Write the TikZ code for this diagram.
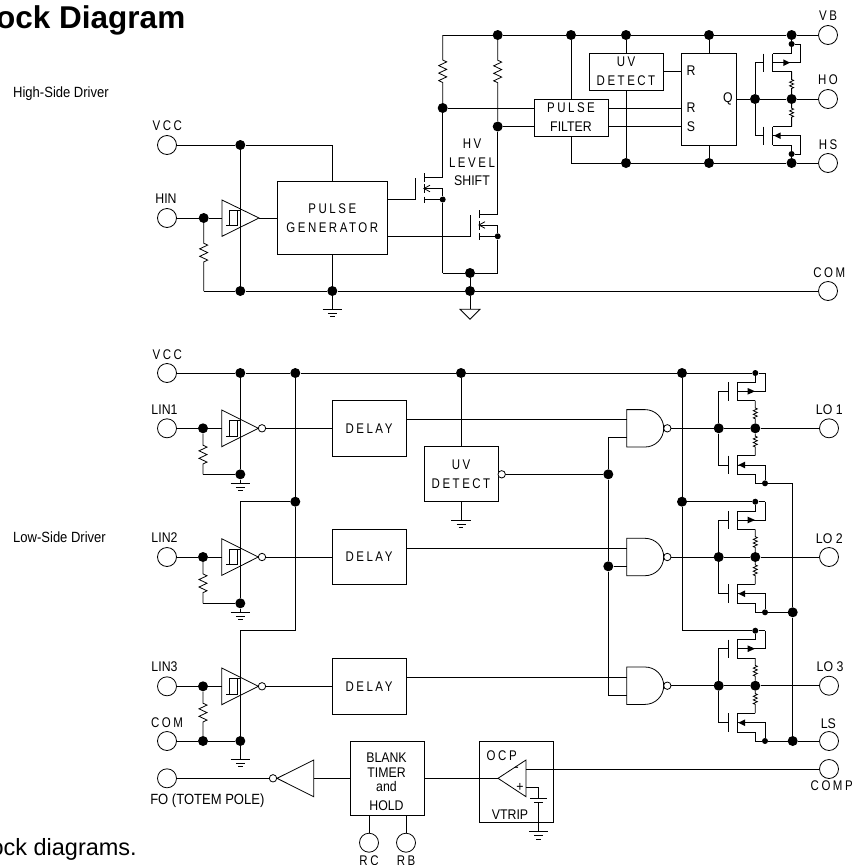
\documentclass[tikz,border=0pt]{standalone}
\usepackage{fontspec}
\usepackage{tikz}
\usetikzlibrary{decorations.pathmorphing}
\setmainfont{Liberation Sans}
\newfontfamily\narrowfont[FakeStretch=0.88]{Liberation Sans}
\newfontfamily\spacedfont[FakeStretch=0.82,LetterSpace=18]{Liberation Sans}
\tikzset{
  wire/.style={line width=0.8pt},
  term/.style={shape=circle,minimum size=19pt,fill=white,draw,line width=0.8pt},
  dot/.style={shape=circle,minimum size=10pt,fill=black},
  sdot/.style={shape=circle,minimum size=6pt,fill=black},
  bub/.style={shape=circle,minimum size=7.4pt,fill=white,draw,line width=0.8pt},
  blk/.style={shape=rectangle,draw,line width=0.8pt,align=center},
  lbl/.style={font=\narrowfont\fontsize{14}{19}\selectfont},
  wlbl/.style={font=\narrowfont\fontsize{14.8}{19}\selectfont},
  sp/.style={font=\spacedfont\fontsize{14}{19}\selectfont},
  resist/.style 2 args={decorate,decoration={zigzag,segment length=7.5pt,amplitude=4pt,pre length=#1,post length=#2}},
  sres/.style 2 args={decorate,decoration={zigzag,segment length=3.6pt,amplitude=2pt,pre length=#1,post length=#2}},
}
\begin{document}
\begin{tikzpicture}[inner sep=0pt]
\useasboundingbox (0pt,0pt) rectangle (855pt,-865pt);
\node (title) [at={(185.5pt,-28pt)},anchor=base east,font=\bfseries\fontsize{31.5}{33}\selectfont] {ock Diagram};
\node (note) [at={(137pt,-855pt)},anchor=base east,font=\fontsize{23.5}{25}\selectfont] {ock diagrams.};
\node (high) [at={(13pt,-94pt)},anchor=west,wlbl] {High-Side Driver};
\node (low) [at={(13pt,-537pt)},anchor=west,wlbl] {Low-Side Driver};
\node (vb) [term,at={(828pt,-35pt)}] {};
\node (ho) [term,at={(828pt,-99pt)}] {};
\node (hs) [term,at={(828pt,-163pt)}] {};
\node (com0) [term,at={(828pt,-291pt)}] {};
\node (vcc0) [term,at={(167pt,-145pt)}] {};
\node (hin) [term,at={(167pt,-218pt)}] {};
\node (vcc1) [term,at={(167pt,-373pt)}] {};
\node (lin1) [term,at={(167pt,-428.3pt)}] {};
\node (lin2) [term,at={(167pt,-557pt)}] {};
\node (lin3) [term,at={(167pt,-686.3pt)}] {};
\node (com1) [term,at={(167pt,-741pt)}] {};
\node (fo) [term,at={(167pt,-778.3pt)}] {};
\node (rc) [term,at={(369pt,-842.7pt)}] {};
\node (rb) [term,at={(406pt,-842.7pt)}] {};
\node (lo1) [term,at={(829pt,-428.3pt)}] {};
\node (lo2) [term,at={(829pt,-557pt)}] {};
\node (lo3) [term,at={(829pt,-685.7pt)}] {};
\node (ls) [term,at={(829pt,-741pt)}] {};
\node (comp) [term,at={(829pt,-769pt)}] {};

\node (pf) [blk,lbl,minimum width=74pt,minimum height=37pt,at={(571pt,-117.5pt)}] {{\spacedfont PULSE}\\FILTER};
\node (uv0) [blk,sp,minimum width=74pt,minimum height=37pt,at={(626pt,-71.5pt)}] {UV\\DETECT};
\node (ff) [blk,minimum width=55.3pt,minimum height=92pt,at={(708.7pt,-99pt)}] {};
\node (pg) [blk,sp,minimum width=110.7pt,minimum height=73.4pt,at={(332.3pt,-218pt)}] {PULSE\\GENERATOR};
\node (dl1) [blk,sp,minimum width=74pt,minimum height=55.3pt,at={(369pt,-428.3pt)}] {DELAY};
\node (dl2) [blk,sp,minimum width=74pt,minimum height=55.3pt,at={(369pt,-557pt)}] {DELAY};
\node (dl3) [blk,sp,minimum width=74pt,minimum height=55.3pt,at={(369pt,-686.3pt)}] {DELAY};
\node (uv1) [blk,sp,minimum width=74pt,minimum height=55pt,at={(461pt,-474.2pt)}] {UV\\DETECT};
\node (bt) [blk,minimum width=73.6pt,minimum height=73.7pt,at={(387.5pt,-778.3pt)}] {};
\node (ocp) [blk,minimum width=74pt,minimum height=81pt,at={(516.3pt,-781.8pt)}] {};

\node (j0) [dot,at={(497.7pt,-35pt)}] {};
\node (j1) [dot,at={(571pt,-35pt)}] {};
\node (j2) [dot,at={(626pt,-35pt)}] {};
\node (j3) [dot,at={(709pt,-35pt)}] {};
\node (j4) [dot,at={(791.6pt,-35pt)}] {};
\node (j5) [dot,at={(442.7pt,-108pt)}] {};
\node (j6) [dot,at={(497.7pt,-126.5pt)}] {};
\node (j7) [dot,at={(626pt,-163pt)}] {};
\node (j8) [dot,at={(709pt,-163pt)}] {};
\node (j9) [dot,at={(791.6pt,-163pt)}] {};
\node (j10) [dot,at={(755pt,-99pt)}] {};
\node (j11) [dot,at={(791.6pt,-99pt)}] {};
\node (j12) [dot,at={(470pt,-273pt)}] {};
\node (j13) [dot,at={(470pt,-291pt)}] {};
\node (j14) [dot,at={(240.3pt,-145pt)}] {};
\node (j15) [dot,at={(203.7pt,-218pt)}] {};
\node (j16) [dot,at={(240.3pt,-291pt)}] {};
\node (j17) [dot,at={(332.3pt,-291pt)}] {};
\node (j18) [dot,at={(240.3pt,-373pt)}] {};
\node (j19) [dot,at={(295.3pt,-373pt)}] {};
\node (j20) [dot,at={(461pt,-373pt)}] {};
\node (j21) [dot,at={(682pt,-373pt)}] {};
\node (j22) [dot,at={(203pt,-428.3pt)}] {};
\node (j23) [dot,at={(240.3pt,-474.3pt)}] {};
\node (j24) [dot,at={(295.3pt,-501.7pt)}] {};
\node (j25) [dot,at={(203pt,-557pt)}] {};
\node (j26) [dot,at={(240.3pt,-603.3pt)}] {};
\node (j27) [dot,at={(203pt,-686.3pt)}] {};
\node (j28) [dot,at={(203pt,-741pt)}] {};
\node (j29) [dot,at={(240.3pt,-741pt)}] {};
\node (j30) [dot,at={(608.3pt,-474.3pt)}] {};
\node (j31) [dot,at={(608.3pt,-566.3pt)}] {};
\node (j32) [dot,at={(682pt,-501.7pt)}] {};
\node (j33) [dot,at={(718.7pt,-428.3pt)}] {};
\node (j34) [dot,at={(755.3pt,-428.3pt)}] {};
\node (j35) [dot,at={(718.7pt,-557pt)}] {};
\node (j36) [dot,at={(755.3pt,-557pt)}] {};
\node (j37) [dot,at={(792.7pt,-612.3pt)}] {};
\node (j38) [dot,at={(718.7pt,-685.7pt)}] {};
\node (j39) [dot,at={(755.3pt,-685.7pt)}] {};
\node (j40) [dot,at={(792.7pt,-741pt)}] {};

\node (s0) [sdot,at={(791.6pt,-44pt)}] {};
\node (s1) [sdot,at={(791.6pt,-154pt)}] {};
\node (s2) [sdot,at={(442.7pt,-199.5pt)}] {};
\node (s3) [sdot,at={(497.7pt,-236.3pt)}] {};
\node (s4) [sdot,at={(755.3pt,-373pt)}] {};
\node (s5) [sdot,at={(765pt,-483.3pt)}] {};
\node (s6) [sdot,at={(755.3pt,-501.7pt)}] {};
\node (s7) [sdot,at={(765pt,-612.3pt)}] {};
\node (s8) [sdot,at={(755.3pt,-630.7pt)}] {};
\node (s9) [sdot,at={(765pt,-741pt)}] {};

\node (b0) [bub,at={(262pt,-428.3pt)}] {};
\node (b1) [bub,at={(262pt,-557pt)}] {};
\node (b2) [bub,at={(262pt,-686.3pt)}] {};
\node (b3) [bub,at={(501.7pt,-474.3pt)}] {};
\node (b4) [bub,at={(667.3pt,-428.3pt)}] {};
\node (b5) [bub,at={(667.3pt,-557pt)}] {};
\node (b6) [bub,at={(667.3pt,-685.7pt)}] {};
\node (b7) [bub,at={(273pt,-778.3pt)}] {};

\node (tvb) [sp,at={(828pt,-15.7pt)}] {VB};
\node (tho) [sp,at={(828pt,-80pt)}] {HO};
\node (ths) [sp,at={(828pt,-144.7pt)}] {HS};
\node (tcom0) [sp,at={(829.3pt,-272.7pt)}] {COM};
\node (tvcc0) [sp,at={(167.3pt,-126pt)}] {VCC};
\node (thin) [lbl,at={(166pt,-199pt)}] {HIN};
\node (tvcc1) [sp,at={(167.3pt,-354.7pt)}] {VCC};
\node (tlin1) [lbl,at={(164.5pt,-410pt)}] {LIN1};
\node (tlin2) [lbl,at={(164.5pt,-538pt)}] {LIN2};
\node (tlin3) [lbl,at={(164.5pt,-667pt)}] {LIN3};
\node (tcom1) [sp,at={(167pt,-722.7pt)}] {COM};
\node (tfo) [wlbl,at={(207.3pt,-800.7pt)}] {FO (TOTEM POLE)};
\node (trc) [sp,at={(369pt,-861pt)}] {RC};
\node (trb) [sp,at={(406pt,-861pt)}] {RB};
\node (tlo1) [lbl,at={(829.3pt,-410pt)}] {LO 1};
\node (tlo2) [lbl,at={(829.3pt,-538.3pt)}] {LO 2};
\node (tlo3) [lbl,at={(830pt,-666.7pt)}] {LO 3};
\node (tls) [lbl,at={(828.3pt,-723.3pt)}] {LS};
\node (tcomp) [sp,at={(831.7pt,-785.7pt)}] {COMP};
\node (thv) [sp,at={(472pt,-144pt)}] {HV};
\node (tlevel) [sp,at={(472pt,-163pt)}] {LEVEL};
\node (tshift) [lbl,at={(472pt,-181pt)}] {SHIFT};
\node (tr0) [lbl,at={(691pt,-71pt)}] {R};
\node (tr1) [lbl,at={(691pt,-108pt)}] {R};
\node (ts) [lbl,at={(691pt,-127pt)}] {S};
\node (tq) [lbl,at={(728pt,-98.5pt)}] {Q};
\node (tbt) [lbl,align=center,at={(386.5pt,-781.5pt)}] {BLANK\\[-3.5pt]TIMER\\[-5pt]and\\[0pt]HOLD};
\node (tocp) [sp,at={(501.7pt,-756pt)}] {OCP};
\node (tvtrip) [lbl,at={(510pt,-814.7pt)}] {VTRIP};
\node (tminus) [lbl,at={(516.7pt,-769pt)}] {-};
\node (tplus) [lbl,at={(520pt,-787.7pt)}] {+};

\coordinate (c0) at (442.7pt,-35pt);
\coordinate (c1) at (571pt,-163pt);
\coordinate (c2) at (791.6pt,-71.5pt);
\coordinate (c3) at (791.6pt,-126.5pt);
\coordinate (c4) at (442.7pt,-273pt);
\coordinate (c5) at (497.7pt,-273pt);
\coordinate (c6) at (470pt,-309.3pt);
\coordinate (c7) at (203.7pt,-291pt);
\coordinate (c8) at (332.3pt,-145pt);
\coordinate (c9) at (222pt,-218pt);
\coordinate (c10) at (259pt,-218pt);
\coordinate (c11) at (765pt,-373pt);
\coordinate (c12) at (203pt,-474.3pt);
\coordinate (c13) at (221.7pt,-428.3pt);
\coordinate (c14) at (626.7pt,-419pt);
\coordinate (c15) at (295.3pt,-630.7pt);
\coordinate (c16) at (240.3pt,-630.7pt);
\coordinate (c17) at (240.3pt,-501.7pt);
\coordinate (c18) at (626.7pt,-437.3pt);
\coordinate (c19) at (608.3pt,-437.3pt);
\coordinate (c20) at (608.3pt,-695.3pt);
\coordinate (c21) at (626.7pt,-695.3pt);
\coordinate (c22) at (682pt,-630.7pt);
\coordinate (c23) at (792.7pt,-483.3pt);
\coordinate (c24) at (313.7pt,-778.3pt);
\coordinate (c25) at (498pt,-778.3pt);
\coordinate (c26) at (526pt,-769pt);
\coordinate (c27) at (526pt,-787pt);
\coordinate (c28) at (538.7pt,-798.3pt);
\coordinate (c29) at (203pt,-603.3pt);
\coordinate (c30) at (221.7pt,-557pt);
\coordinate (c31) at (221.7pt,-686.3pt);
\coordinate (c32) at (626.7pt,-548pt);
\coordinate (c33) at (626.7pt,-677pt);
\coordinate (c34) at (626.7pt,-566.3pt);
\coordinate (c35) at (765pt,-501.7pt);
\coordinate (c36) at (765pt,-630.7pt);
\coordinate (c37) at (755.3pt,-400.7pt);
\coordinate (c38) at (755.3pt,-455.7pt);
\coordinate (c39) at (755.3pt,-529.4pt);
\coordinate (c40) at (755.3pt,-584.4pt);
\coordinate (c41) at (755.3pt,-658.1pt);
\coordinate (c42) at (755.3pt,-713.2pt);
\coordinate (c43) at (538.7pt,-802.3pt);
\coordinate (g0) at (332.3pt,-309.3pt);
\coordinate (g1) at (240.3pt,-483.3pt);
\coordinate (g2) at (240.3pt,-612.3pt);
\coordinate (g3) at (240.3pt,-759.3pt);
\coordinate (g4) at (461pt,-520.3pt);
\coordinate (g5) at (538.7pt,-831.7pt);

\path [wire,draw](c0)--(j0);
\path [wire,draw](j0)--(j1);
\path [wire,draw](j1)--(j2);
\path [wire,draw](j2)--(j3);
\path [wire,draw](j3)--(j4);
\path [wire,draw](j4)--(vb);
\path [wire,resist={25pt}{20pt},draw](c0)--(j5);
\path [wire,resist={20pt}{38.5pt},draw](j0)--(j6);
\path [wire,draw](j5)--(pf.west|-j5);
\path [wire,draw](j6)--(pf.west|-j6);
\path [wire,draw](j1)--(pf.north);
\path [wire,draw](pf.south)--(c1);
\path [wire,draw](c1)--(j7);
\path [wire,draw](j7)--(j8);
\path [wire,draw](j8)--(j9);
\path [wire,draw](j9)--(hs);
\path [wire,draw](j2)--(uv0.north);
\path [wire,draw](uv0.south)--(j7);
\path [wire,draw](j3)--(j3|-ff.north);
\path [wire,draw](j8)--(j8|-ff.south);
\path [wire,draw](uv0.east)--(ff.west|-uv0.east);
\path [wire,draw](pf.east|-j5)--(ff.west|-j5);
\path [wire,draw](pf.east|-j6)--(ff.west|-j6);
\path [wire,draw](ff.east|-j10)--(j10);
\path [wire,draw](j10)--(j11);
\path [wire,draw](j11)--(ho);

\path [wire,draw](j10)--(755pt,-62.7pt)--(763.7pt,-62.7pt);
\path [wire,draw](j10)--(755pt,-135.7pt)--(763.7pt,-135.7pt);
\path [wire,draw](763.7pt,-53.5pt)--(763.7pt,-72pt);
\path [wire,draw](772.7pt,-53.5pt)--(772.7pt,-72pt);
\path [wire,draw](763.7pt,-126.5pt)--(763.7pt,-145pt);
\path [wire,draw](772.7pt,-126.5pt)--(772.7pt,-145pt);
\path [wire,draw](j4)--(s0);
\path [wire,draw](s0)--(791.6pt,-53.5pt)--(772.7pt,-53.5pt);
\path [wire,draw](772.7pt,-62.7pt)--(800.3pt,-62.7pt)--(800.3pt,-44pt)--(s0);
\path [fill](783.3pt,-59.4pt)--(790pt,-62.7pt)--(783.3pt,-66pt)--cycle;
\path [wire,draw](772.7pt,-71.5pt)--(c2);
\path [wire,sres={8pt}{4pt},draw](c2)--(j11);
\path [wire,sres={4pt}{8.5pt},draw](j11)--(c3);
\path [wire,draw](c3)--(772.7pt,-126.5pt);
\path [wire,draw](772.7pt,-135.7pt)--(800.3pt,-135.7pt)--(800.3pt,-154pt)--(s1);
\path [fill](780.7pt,-132.4pt)--(774pt,-135.7pt)--(780.7pt,-139pt)--cycle;
\path [wire,draw](772.7pt,-145pt)--(791.6pt,-145pt)--(s1);
\path [wire,draw](s1)--(j9);

\path [wire,draw](j5)--(442.7pt,-177.7pt)--(424pt,-177.7pt);
\path [wire,draw](424pt,-188.5pt)--(442.7pt,-188.5pt)--(s2);
\path [wire,draw](424pt,-199.5pt)--(s2);
\path [wire,draw](s2)--(c4);
\path [wire,draw](424pt,-173.3pt)--(424pt,-181.7pt) (424pt,-184pt)--(424pt,-193.3pt) (424pt,-196.7pt)--(424pt,-203.3pt);
\path [wire,draw](430pt,-185.2pt)--(424pt,-188.5pt)--(430pt,-191.8pt);
\path [wire,draw](pg.east|-s2)--(415.3pt,-199.5pt)--(415.3pt,-177.7pt);
\path [wire,draw](j6)--(497.7pt,-214.7pt)--(479pt,-214.7pt);
\path [wire,draw](479pt,-225pt)--(497.7pt,-225pt)--(s3);
\path [wire,draw](479pt,-236.3pt)--(s3);
\path [wire,draw](s3)--(c5);
\path [wire,draw](479pt,-210pt)--(479pt,-218.3pt) (479pt,-220.7pt)--(479pt,-230pt) (479pt,-233.3pt)--(479pt,-240pt);
\path [wire,draw](485pt,-221.7pt)--(479pt,-225pt)--(485pt,-228.3pt);
\path [wire,draw](pg.east|-s3)--(470.7pt,-236.3pt)--(470.7pt,-214.7pt);
\path [wire,draw](c4)--(j12);
\path [wire,draw](j12)--(c5);
\path [wire,draw](j12)--(j13);
\path [wire,draw](j13)--(c6);
\path [wire,draw](460pt,-309.3pt)--(480pt,-309.3pt)--(470pt,-319.3pt)--cycle;
\path [wire,draw](c7)--(j16);
\path [wire,draw](j16)--(j17);
\path [wire,draw](j17)--(j13);
\path [wire,draw](j13)--(com0);

\path [wire,draw](vcc0)--(j14);
\path [wire,draw](j14)--(c8);
\path [wire,draw](c8)--(pg.north);
\path [wire,draw](j14)--(j16);
\path [wire,draw](hin)--(j15);
\path [wire,draw](j15)--(c9);
\path [wire,draw](c10)--(pg.west);
\path [wire,resist={20pt}{26pt},draw](j15)--(c7);
\path [wire,draw](pg.south)--(j17);
\path [wire,draw](j17)--(g0);
\path [wire,draw](222pt,-200pt)--(222pt,-236.3pt)--(259pt,-218pt)--cycle;
\path [wire,draw](226pt,-225.7pt)--(237.3pt,-225.7pt)--(237.3pt,-210pt)--(229.3pt,-210pt)--(229.3pt,-225.7pt) (237.3pt,-210pt)--(240.3pt,-210pt);
\path [wire,draw](322.6pt,-309.3pt)--(342pt,-309.3pt) (327.8pt,-313pt)--(336.8pt,-313pt) (330pt,-316.5pt)--(334.6pt,-316.5pt);

\path [wire,draw](vcc1)--(j18);
\path [wire,draw](j18)--(j19);
\path [wire,draw](j19)--(j20);
\path [wire,draw](j20)--(j21);
\path [wire,draw](j21)--(s4);
\path [wire,draw](s4)--(c11);
\path [wire,draw](j18)--(j23);
\path [wire,draw](j23)--(g1);
\path [wire,draw](lin1)--(j22);
\path [wire,draw](j22)--(c13);
\path [wire,resist={11.7pt}{7.3pt},draw](j22)--(c12);
\path [wire,draw](c12)--(j23);
\path [wire,draw](b0)--(dl1.west);
\path [wire,draw](221.7pt,-410pt)--(221.7pt,-446.7pt)--(258.3pt,-428.3pt)--cycle;
\path [wire,draw](226pt,-436pt)--(237pt,-436pt)--(237pt,-420.3pt)--(229pt,-420.3pt)--(229pt,-436pt) (237pt,-420.3pt)--(240pt,-420.3pt);
\path [wire,draw](230.6pt,-483.3pt)--(250pt,-483.3pt) (235.8pt,-487pt)--(244.8pt,-487pt) (238pt,-490.5pt)--(242.6pt,-490.5pt);

\path [wire,draw](j19)--(j24);
\path [wire,draw](j24)--(c15);
\path [wire,draw](c15)--(c16);
\path [wire,draw](c16)--(j29);
\path [wire,draw](j24)--(c17);
\path [wire,draw](c17)--(j26);
\path [wire,draw](j26)--(g2);
\path [wire,draw](lin2)--(j25);
\path [wire,draw](j25)--(c30);
\path [wire,resist={11.7pt}{7.3pt},draw](j25)--(c29);
\path [wire,draw](c29)--(j26);
\path [wire,draw](b1)--(dl2.west);
\path [wire,draw](221.7pt,-538.7pt)--(221.7pt,-575.4pt)--(258.3pt,-557pt)--cycle;
\path [wire,draw](226pt,-564.7pt)--(237pt,-564.7pt)--(237pt,-549pt)--(229pt,-549pt)--(229pt,-564.7pt) (237pt,-549pt)--(240pt,-549pt);
\path [wire,draw](230.6pt,-612.3pt)--(250pt,-612.3pt) (235.8pt,-616pt)--(244.8pt,-616pt) (238pt,-619.5pt)--(242.6pt,-619.5pt);

\path [wire,draw](lin3)--(j27);
\path [wire,draw](j27)--(c31);
\path [wire,resist={11.7pt}{13pt},draw](j27)--(j28);
\path [wire,draw](com1)--(j28);
\path [wire,draw](j28)--(j29);
\path [wire,draw](j29)--(g3);
\path [wire,draw](b2)--(dl3.west);
\path [wire,draw](221.7pt,-668pt)--(221.7pt,-704.7pt)--(258.3pt,-686.3pt)--cycle;
\path [wire,draw](226pt,-694pt)--(237pt,-694pt)--(237pt,-678.3pt)--(229pt,-678.3pt)--(229pt,-694pt) (237pt,-678.3pt)--(240pt,-678.3pt);
\path [wire,draw](230.6pt,-759.3pt)--(250pt,-759.3pt) (235.8pt,-763pt)--(244.8pt,-763pt) (238pt,-766.5pt)--(242.6pt,-766.5pt);

\path [wire,draw](dl1.east|-c14)--(c14);
\path [wire,draw](dl2.east|-c32)--(c32);
\path [wire,draw](dl3.east|-c33)--(c33);
\path [wire,draw](j20)--(uv1.north);
\path [wire,draw](uv1.south)--(g4);
\path [wire,draw](451.3pt,-520.3pt)--(470.7pt,-520.3pt) (456.5pt,-524pt)--(465.5pt,-524pt) (458.7pt,-527.5pt)--(463.3pt,-527.5pt);
\path [wire,draw](b3)--(j30);
\path [wire,draw](c18)--(c19);
\path [wire,draw](c19)--(j30);
\path [wire,draw](j30)--(j31);
\path [wire,draw](j31)--(c20);
\path [wire,draw](c20)--(c21);
\path [wire,draw](j31)--(c34);

\path [wire,draw](626.7pt,-409.6pt)--(645pt,-409.6pt) arc[start angle=90,end angle=-90,radius=18.7pt]--(626.7pt,-447pt)--cycle;
\path [wire,draw](626.7pt,-538.3pt)--(645pt,-538.3pt) arc[start angle=90,end angle=-90,radius=18.7pt]--(626.7pt,-575.7pt)--cycle;
\path [wire,draw](626.7pt,-667pt)--(645pt,-667pt) arc[start angle=90,end angle=-90,radius=18.7pt]--(626.7pt,-704.4pt)--cycle;

\path [wire,draw](j21)--(j32);
\path [wire,draw](j32)--(c22);
\path [wire,draw](j32)--(s6);
\path [wire,draw](c22)--(s8);

\path [wire,draw](b4)--(j33);
\path [wire,draw](j33)--(j34);
\path [wire,draw](j34)--(lo1);
\path [wire,draw](j33)--(718.7pt,-391.3pt)--(728pt,-391.3pt);
\path [wire,draw](j33)--(718.7pt,-465pt)--(728pt,-465pt);
\path [wire,draw](728pt,-382.3pt)--(728pt,-400.7pt);
\path [wire,draw](737.3pt,-382.3pt)--(737.3pt,-400.7pt);
\path [wire,draw](728pt,-455.7pt)--(728pt,-474.3pt);
\path [wire,draw](737.3pt,-455.7pt)--(737.3pt,-474.3pt);
\path [wire,draw](s4)--(755.3pt,-382.3pt)--(737.3pt,-382.3pt);
\path [wire,draw](c11)--(765pt,-391.3pt)--(737.3pt,-391.3pt);
\path [fill](747.7pt,-388pt)--(755pt,-391.3pt)--(747.7pt,-394.6pt)--cycle;
\path [wire,draw](737.3pt,-400.7pt)--(c37);
\path [wire,sres={7.3pt}{3.3pt},draw](c37)--(j34);
\path [wire,sres={2.7pt}{7.7pt},draw](j34)--(c38);
\path [wire,draw](c38)--(737.3pt,-455.7pt);
\path [wire,draw](737.3pt,-465pt)--(765pt,-465pt)--(s5);
\path [fill](745pt,-461.7pt)--(738.3pt,-465pt)--(745pt,-468.3pt)--cycle;
\path [wire,draw](737.3pt,-474.3pt)--(755.3pt,-474.3pt)--(755.3pt,-483.3pt)--(s5);
\path [wire,draw](s5)--(c23);

\path [wire,draw](b5)--(j35);
\path [wire,draw](j35)--(j36);
\path [wire,draw](j36)--(lo2);
\path [wire,draw](j35)--(718.7pt,-520pt)--(728pt,-520pt);
\path [wire,draw](j35)--(718.7pt,-593.7pt)--(728pt,-593.7pt);
\path [wire,draw](728pt,-511pt)--(728pt,-529.4pt);
\path [wire,draw](737.3pt,-511pt)--(737.3pt,-529.4pt);
\path [wire,draw](728pt,-584.4pt)--(728pt,-603pt);
\path [wire,draw](737.3pt,-584.4pt)--(737.3pt,-603pt);
\path [wire,draw](s6)--(755.3pt,-511pt)--(737.3pt,-511pt);
\path [wire,draw](s6)--(c35);
\path [wire,draw](c35)--(765pt,-520pt)--(737.3pt,-520pt);
\path [fill](747.7pt,-516.7pt)--(755pt,-520pt)--(747.7pt,-523.3pt)--cycle;
\path [wire,draw](737.3pt,-529.4pt)--(c39);
\path [wire,sres={7.3pt}{3.3pt},draw](c39)--(j36);
\path [wire,sres={2.7pt}{7.7pt},draw](j36)--(c40);
\path [wire,draw](c40)--(737.3pt,-584.4pt);
\path [wire,draw](737.3pt,-593.7pt)--(765pt,-593.7pt)--(s7);
\path [fill](745pt,-590.4pt)--(738.3pt,-593.7pt)--(745pt,-597pt)--cycle;
\path [wire,draw](737.3pt,-603pt)--(755.3pt,-603pt)--(755.3pt,-612.3pt)--(s7);
\path [wire,draw](s7)--(j37);

\path [wire,draw](b6)--(j38);
\path [wire,draw](j38)--(j39);
\path [wire,draw](j39)--(lo3);
\path [wire,draw](j38)--(718.7pt,-648.7pt)--(728pt,-648.7pt);
\path [wire,draw](j38)--(718.7pt,-722.7pt)--(728pt,-722.7pt);
\path [wire,draw](728pt,-639.7pt)--(728pt,-658.1pt);
\path [wire,draw](737.3pt,-639.7pt)--(737.3pt,-658.1pt);
\path [wire,draw](728pt,-713.2pt)--(728pt,-732pt);
\path [wire,draw](737.3pt,-713.2pt)--(737.3pt,-732pt);
\path [wire,draw](s8)--(755.3pt,-639.7pt)--(737.3pt,-639.7pt);
\path [wire,draw](s8)--(c36);
\path [wire,draw](c36)--(765pt,-648.7pt)--(737.3pt,-648.7pt);
\path [fill](747.7pt,-645.4pt)--(755pt,-648.7pt)--(747.7pt,-652pt)--cycle;
\path [wire,draw](737.3pt,-658.1pt)--(c41);
\path [wire,sres={7.3pt}{3.3pt},draw](c41)--(j39);
\path [wire,sres={2.7pt}{7.7pt},draw](j39)--(c42);
\path [wire,draw](c42)--(737.3pt,-713.2pt);
\path [wire,draw](737.3pt,-722.7pt)--(765pt,-722.7pt)--(s9);
\path [fill](745pt,-719.4pt)--(738.3pt,-722.7pt)--(745pt,-726pt)--cycle;
\path [wire,draw](737.3pt,-732pt)--(755.3pt,-732pt)--(755.3pt,-741pt)--(s9);
\path [wire,draw](s9)--(j40);
\path [wire,draw](j40)--(ls);
\path [wire,draw](c23)--(j37);
\path [wire,draw](j37)--(j40);

\path [wire,draw](fo)--(b7);
\path [wire,draw](277pt,-778.3pt)--(313.7pt,-760pt)--(313.7pt,-796.7pt)--cycle;
\path [wire,draw](c24)--(bt.west);
\path [wire,draw](bt.east)--(c25);
\path [wire,draw](rc|-bt.south)--(rc);
\path [wire,draw](rb|-bt.south)--(rb);
\path [wire,draw](498pt,-778.3pt)--(526pt,-760pt)--(526pt,-796.7pt)--cycle;
\path [wire,draw](c26)--(comp);
\path [wire,draw](c27)--(538.7pt,-787pt)--(c28);
\path [wire,draw](c43)--(g5);
\path [wire,draw](530pt,-798.3pt)--(546.7pt,-798.3pt) (534pt,-802.3pt)--(543.4pt,-802.3pt);
\path [wire,draw](529pt,-831.7pt)--(548.4pt,-831.7pt) (534.2pt,-835.4pt)--(543.2pt,-835.4pt) (536.4pt,-838.9pt)--(541pt,-838.9pt);
\end{tikzpicture}
\end{document}
